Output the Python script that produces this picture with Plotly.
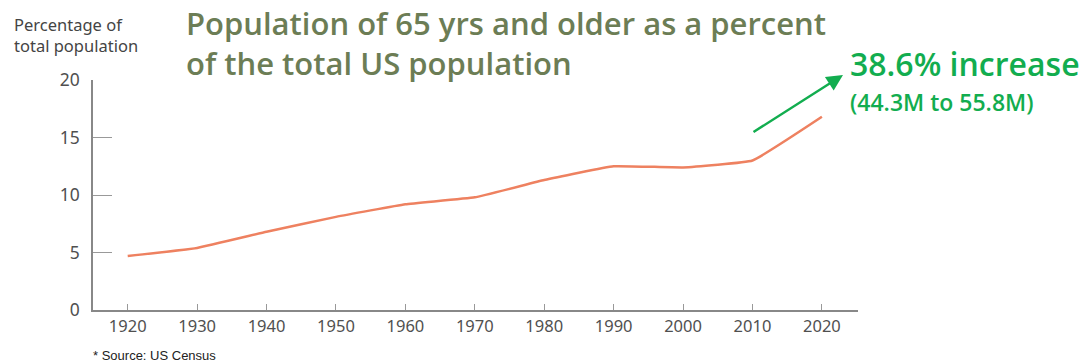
import plotly.graph_objects as go

years = [1920, 1930, 1940, 1950, 1960, 1970, 1980, 1990, 2000, 2010, 2020]
pct_65_plus = [4.7, 5.4, 6.8, 8.1, 9.2, 9.8, 11.3, 12.5, 12.4, 13.0, 16.8]
y_ticks = [0, 5, 10, 15, 20]

L, R, T, B = 93, 226, 80, 52
W, H = 1084, 362
pw, ph = W - L - R, H - T - B

def px(x):
    return (x - L) / pw

def py(y):
    return (H - B - y) / ph

fig = go.Figure()
fig.add_trace(go.Scatter(
    x=years, y=pct_65_plus, mode="lines",
    line=dict(color="#EE8160", width=2.5, shape="spline", smoothing=0.3),
    hoverinfo="skip", showlegend=False,
))

fig.update_layout(
    width=W, height=H,
    margin=dict(l=L, r=R, t=T, b=B),
    paper_bgcolor="white", plot_bgcolor="white",
    xaxis=dict(
        range=[1915, 2025.2], tickvals=years, ticks="inside", ticklen=6,
        tickcolor="#999999", showline=True, linecolor="#888888", linewidth=1.5,
        showgrid=False, zeroline=False, fixedrange=True,
        tickfont=dict(family="Noto Sans, sans-serif", size=16.5, color="#505050"),
    ),
    yaxis=dict(
        range=[0, 20], tickvals=y_ticks, ticks="inside", ticklen=19,
        tickcolor="#999999", showline=True, linecolor="#888888", linewidth=1.5,
        showgrid=False, zeroline=False, ticklabelstandoff=8, fixedrange=True,
        tickfont=dict(family="Noto Sans, sans-serif", size=17.5, color="#505050"),
    ),
)

ann = []
ann.append(dict(
    text="Percentage of<br>total population", xref="paper", yref="paper",
    x=px(12), y=py(11), xanchor="left", yanchor="top", showarrow=False, align="left",
    font=dict(family="Noto Sans, sans-serif", size=16.5, color="#444444"),
))
ann.append(dict(
    text="Population of 65 yrs and older as a percent<br>of the total US population",
    xref="paper", yref="paper", x=px(184), y=py(0),
    xanchor="left", yanchor="top", showarrow=False, align="left",
    font=dict(family="Open Sans, sans-serif", size=31, color="#6C7D55", weight=600),
))
ann.append(dict(
    text="38.6% increase", xref="paper", yref="paper", x=px(848), y=py(40),
    xanchor="left", yanchor="top", showarrow=False, align="left",
    font=dict(family="Open Sans, sans-serif", size=32, color="#12AD4F", weight=600),
))
ann.append(dict(
    text="(44.3M to 55.8M)", xref="paper", yref="paper", x=px(848), y=py(84),
    xanchor="left", yanchor="top", showarrow=False, align="left",
    font=dict(family="Open Sans, sans-serif", size=23, color="#12AD4F", weight=600),
))
ann.append(dict(
    text="", xref="paper", yref="paper", x=px(843), y=py(75),
    ax=-91, ay=58, showarrow=True, arrowhead=2, arrowsize=1.3, arrowwidth=2.5,
    arrowcolor="#12AD4F",
))
ann.append(dict(
    text="* Source: US Census", xref="paper", yref="paper", x=px(91), y=py(346),
    xanchor="left", yanchor="top", showarrow=False,
    font=dict(family="Liberation Sans, Arial, sans-serif", size=13, color="#222222"),
))
fig.update_layout(annotations=ann)

fig.write_html("out.html", config={"displayModeBar": False})
